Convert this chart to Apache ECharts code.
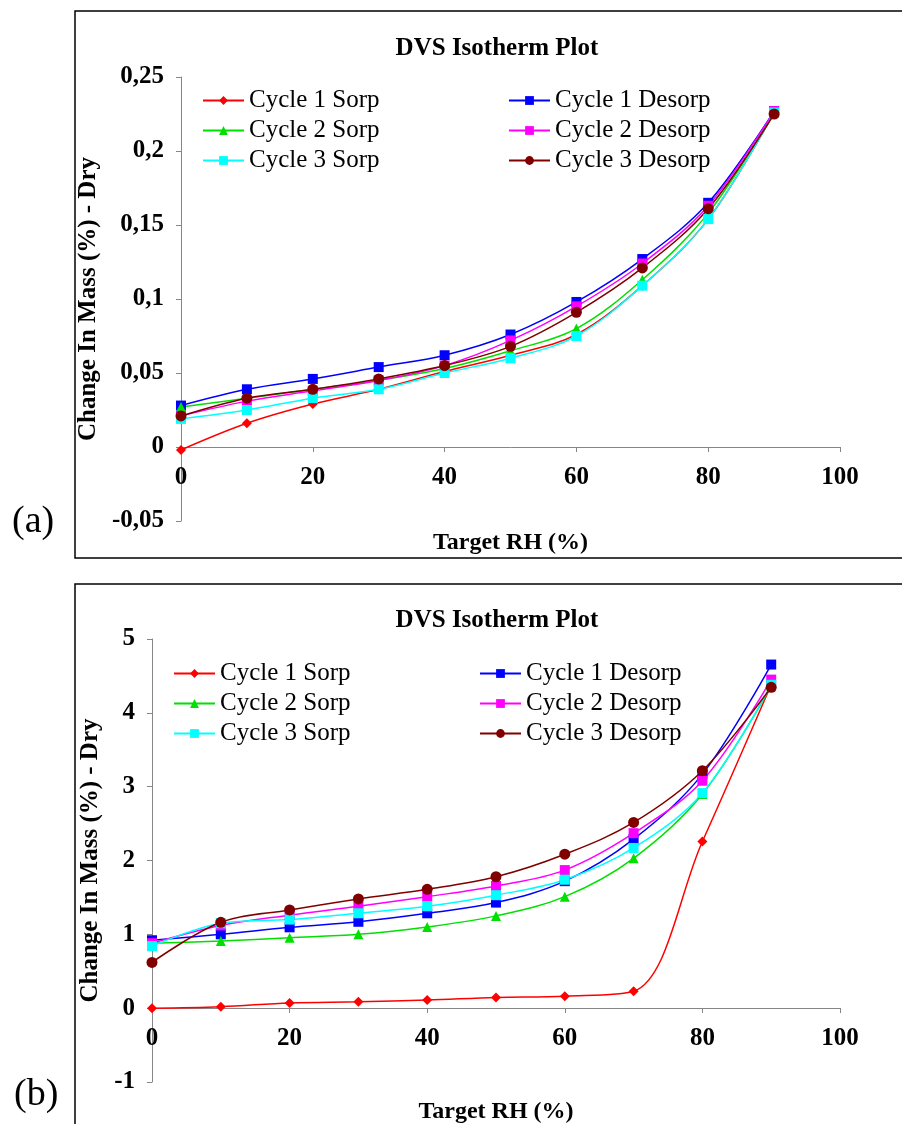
<!DOCTYPE html>
<html>
<head>
<meta charset="utf-8">
<script src="https://cdn.jsdelivr.net/npm/echarts@6/dist/echarts.min.js"></script>
<style>
  html, body { margin: 0; padding: 0; background: #fff; }
  #main { width: 902px; height: 1124px; }
</style>
</head>
<body>
<div id="main"></div>
<script>
// x values (Target RH %)
var rh = [0, 10, 20, 30, 40, 50, 60, 70, 80, 90];
var names = ['Cycle 1 Sorp', 'Cycle 1 Desorp', 'Cycle 2 Sorp', 'Cycle 2 Desorp', 'Cycle 3 Sorp', 'Cycle 3 Desorp'];

// panel (a)
var aC1Sorp   = [-0.002, 0.016, 0.029, 0.039, 0.051, 0.062, 0.076, 0.109, 0.154, 0.226];
var aC1Desorp = [0.028, 0.039, 0.046, 0.054, 0.062, 0.076, 0.098, 0.127, 0.165, 0.227];
var aC2Sorp   = [0.027, 0.033, 0.039, 0.045, 0.053, 0.065, 0.080, 0.113, 0.158, 0.226];
var aC2Desorp = [0.021, 0.031, 0.038, 0.045, 0.055, 0.072, 0.095, 0.124, 0.163, 0.227];
var aC3Sorp   = [0.019, 0.025, 0.033, 0.039, 0.050, 0.060, 0.075, 0.109, 0.154, 0.226];
var aC3Desorp = [0.021, 0.033, 0.039, 0.046, 0.055, 0.068, 0.091, 0.121, 0.161, 0.225];

// panel (b)
var bC1Sorp   = [0.0, 0.02, 0.07, 0.086, 0.11, 0.145, 0.163, 0.228, 2.257, 4.38];
var bC1Desorp = [0.92, 1.0, 1.095, 1.17, 1.285, 1.43, 1.72, 2.29, 3.17, 4.654];
var bC2Sorp   = [0.88, 0.91, 0.954, 1.0, 1.10, 1.25, 1.51, 2.03, 2.9, 4.36];
var bC2Desorp = [0.88, 1.12, 1.26, 1.38, 1.51, 1.655, 1.87, 2.37, 3.08, 4.45];
var bC3Sorp   = [0.84, 1.15, 1.20, 1.285, 1.38, 1.53, 1.74, 2.17, 2.913, 4.38];
var bC3Desorp = [0.62, 1.163, 1.33, 1.48, 1.61, 1.78, 2.085, 2.515, 3.216, 4.346];

var colors  = ['#ff0000', '#0000ff', '#00e000', '#ff00ff', '#00ffff', '#800000'];
var symbols = ['diamond', 'rect', 'triangle', 'rect', 'rect', 'circle'];
var symSize = [10, 10, 10, 10, 10, 11];

var serif = 'Liberation Serif';
var myChart = echarts.init(document.getElementById('main'));

function pairs(vals) {
    return vals.map(function (v, i) { return [rh[i], v]; });
}

function makeSeries(list, idx) {
    return list.map(function (vals, i) {
        return {
            name: names[i],
            type: 'line',
            xAxisIndex: idx,
            yAxisIndex: idx,
            data: pairs(vals),
            smooth: 0.35,
            symbol: symbols[i],
            symbolSize: symSize[i],
            color: colors[i],
            lineStyle: { width: 1.5, color: colors[i] },
            itemStyle: { color: colors[i] },
            animation: false
        };
    });
}

function commaFmt(v) {
    return String(v).replace('.', ',');
}

// x axis sits on the zero line: shift it up by offset (px from grid bottom)
function xAxisOf(idx, offset, gap) {
    return {
        gridIndex: idx, type: 'value', min: 0, max: 100, interval: 20,
        offset: offset,
        name: 'Target RH (%)', nameLocation: 'middle', nameGap: gap,
        nameTextStyle: { fontFamily: serif, fontWeight: 'bold', fontSize: 24, color: '#000' },
        axisLine: { onZero: false, lineStyle: { color: '#868686', width: 1 } },
        axisTick: { show: true, length: 5, lineStyle: { color: '#868686' } },
        axisLabel: { margin: 18, fontFamily: serif, fontWeight: 'bold', fontSize: 25, color: '#000' },
        splitLine: { show: false }
    };
}

function yAxisOf(idx, min, max, interval, gap) {
    return {
        gridIndex: idx, type: 'value', min: min, max: max, interval: interval,
        name: 'Change In Mass (%) - Dry', nameLocation: 'middle', nameGap: gap,
        nameTextStyle: { fontFamily: serif, fontWeight: 'bold', fontSize: 25, color: '#000' },
        axisLine: { show: true, lineStyle: { color: '#868686', width: 1 } },
        axisTick: { show: true, length: 5, lineStyle: { color: '#868686' } },
        axisLabel: { margin: 17, fontFamily: serif, fontWeight: 'bold', fontSize: 25, color: '#000', formatter: commaFmt },
        splitLine: { show: false }
    };
}

function legendOf(left, top, items) {
    return {
        left: left, top: top, orient: 'vertical', padding: 0,
        data: items, itemWidth: 41, itemHeight: 11, itemGap: 5,
        selectedMode: false,
        textStyle: { fontFamily: serif, fontSize: 25, color: '#000', lineHeight: 25 }
    };
}

var option = {
    backgroundColor: '#fff',
    animation: false,
    title: [
        { text: 'DVS Isotherm Plot', left: 492, top: 31, textAlign: 'center',
          textStyle: { fontFamily: serif, fontWeight: 'bold', fontSize: 25, color: '#000' } },
        { text: 'DVS Isotherm Plot', left: 492, top: 603, textAlign: 'center',
          textStyle: { fontFamily: serif, fontWeight: 'bold', fontSize: 25, color: '#000' } }
    ],
    legend: [
        legendOf(202, 88, [names[0], names[2], names[4]]),
        legendOf(508, 88, [names[1], names[3], names[5]]),
        legendOf(173, 661, [names[0], names[2], names[4]]),
        legendOf(479, 661, [names[1], names[3], names[5]])
    ],
    grid: [
        { left: 181, top: 77, width: 659, height: 444, outerBoundsMode: 'none', containLabel: false },
        { left: 152, top: 639, width: 688, height: 443, outerBoundsMode: 'none', containLabel: false }
    ],
    xAxis: [xAxisOf(0, -74, 84), xAxisOf(1, -74, 92)],
    yAxis: [yAxisOf(0, -0.05, 0.25, 0.05, 66), yAxisOf(1, -1, 5, 1, 38)],
    graphic: [
        { type: 'rect', shape: { x: 75, y: 11, width: 840, height: 547 },
          style: { fill: 'none', stroke: '#000', lineWidth: 1.5 } },
        { type: 'rect', shape: { x: 75, y: 584, width: 840, height: 560 },
          style: { fill: 'none', stroke: '#000', lineWidth: 1.5 } },
        { type: 'text', left: 12, top: 503,
          style: { text: '(a)', fontFamily: serif, fontSize: 38, fill: '#000' } },
        { type: 'text', left: 14, top: 1076,
          style: { text: '(b)', fontFamily: serif, fontSize: 38, fill: '#000' } }
    ],
    series: makeSeries([aC1Sorp, aC1Desorp, aC2Sorp, aC2Desorp, aC3Sorp, aC3Desorp], 0)
        .concat(makeSeries([bC1Sorp, bC1Desorp, bC2Sorp, bC2Desorp, bC3Sorp, bC3Desorp], 1))
};
myChart.setOption(option);
</script>
</body>
</html>
